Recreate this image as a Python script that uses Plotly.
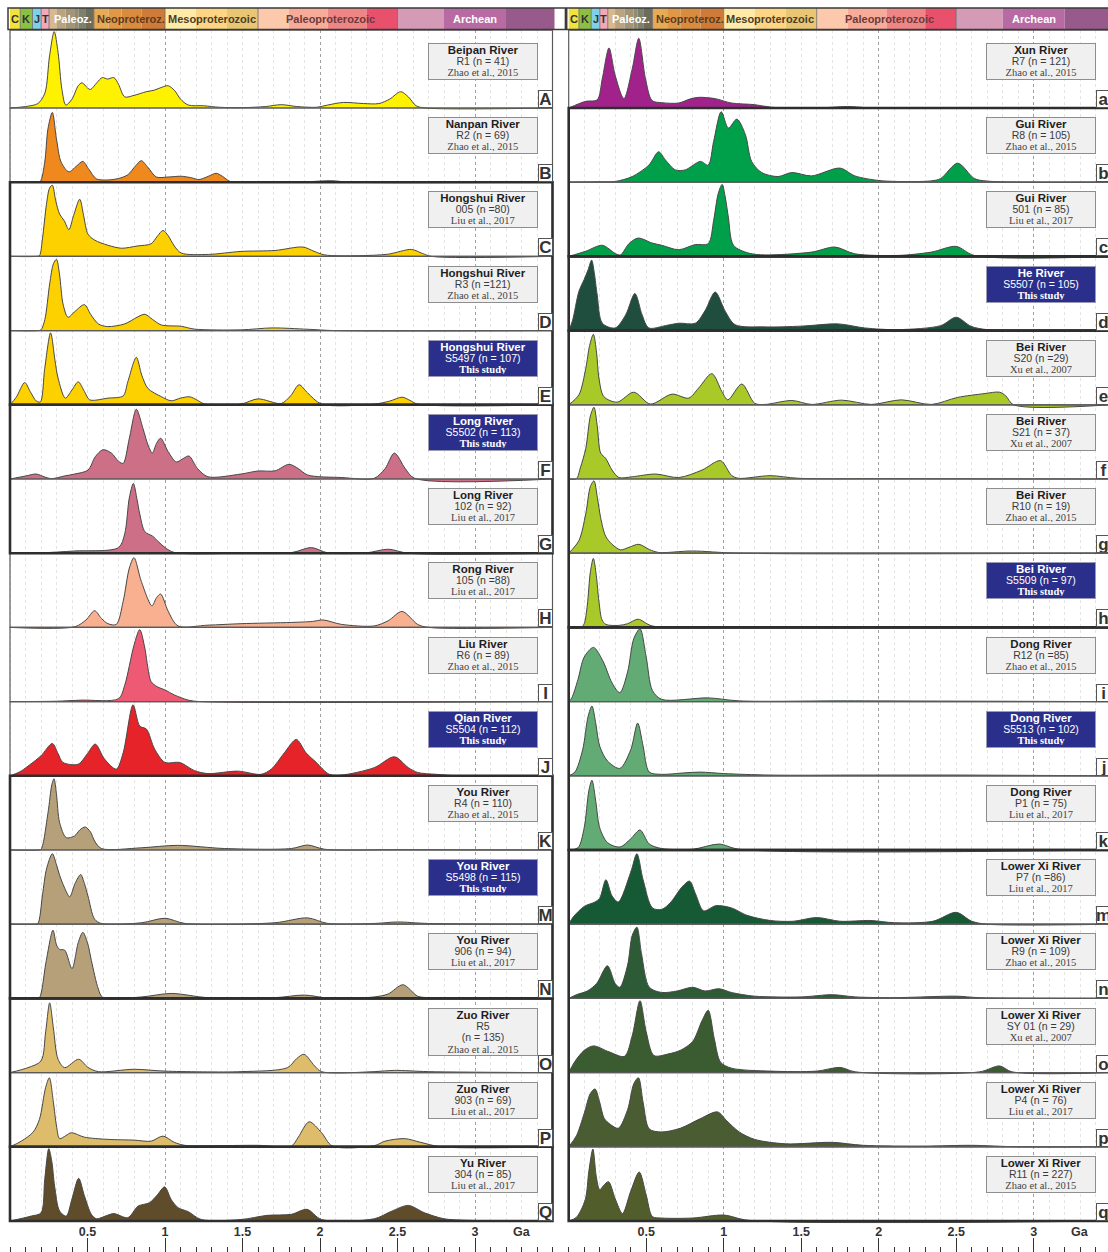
import plotly.graph_objects as go

# ---------------- geological time scale (Ga) ----------------
scale_start = [0.0, 0.066, 0.145, 0.201, 0.252, 0.299, 0.359, 0.419, 0.443, 0.485,
               0.541, 0.635, 0.720, 0.850, 1.0, 1.2, 1.4, 1.6, 1.8, 2.05, 2.3,
               2.5, 2.8, 3.2]
scale_end = scale_start[1:] + [3.6]
scale_colors = ["#f2e23c", "#8cc043", "#7fd0ea", "#f2a8b8",
                "#d8b88c", "#b9a47f", "#a39476", "#908b73", "#7e806e", "#6c6c5c",
                "#e7aa55", "#e09846", "#d98b3e", "#cf7b37",
                "#feeaa9", "#fdd583", "#e9c674",
                "#fcc9ad", "#f7ab98", "#f08585", "#e9506c",
                "#d59bb6", "#b86aa2", "#985a8b"]
era_bounds = [0.066, 0.145, 0.201, 0.252, 0.541, 1.0, 1.6, 2.5]
era_labels = ["C", "K", "J", "T", "Paleoz.", "Neoproteroz.", "Mesoproterozoic",
              "Paleoproterozoic", "Archean"]
era_label_pos = [0.033, 0.105, 0.173, 0.226, 0.405, 0.78, 1.30, 2.07, 3.0]
era_label_colors = ["#333333", "#333333", "#333333", "#333333", "#ffffff",
                    "#5a3d22", "#4d3d28", "#6b3b3b", "#ffffff"]

# ---------------- axis ticks ----------------
tick_values = [0.5, 1, 1.5, 2, 2.5, 3]
tick_labels = ["0.5", "1", "1.5", "2", "2.5", "3"]

# ---------------- KDE outlines: (age in Ga, relative density) ----------------
beipan_r1 = [(0.0, 0.0), (0.1, 0.02), (0.18, 0.06), (0.225, 0.2), (0.255, 0.7), (0.285, 1.03),
             (0.31, 0.75), (0.335, 0.25), (0.36, 0.04), (0.40, 0.12), (0.44, 0.3), (0.465, 0.34),
             (0.50, 0.27), (0.52, 0.25), (0.56, 0.34), (0.595, 0.41), (0.63, 0.39), (0.67, 0.41),
             (0.70, 0.32), (0.74, 0.15), (0.80, 0.17), (0.88, 0.22), (0.93, 0.24), (0.98, 0.28),
             (1.02, 0.30), (1.06, 0.24), (1.10, 0.12), (1.15, 0.04), (1.25, 0.03), (1.35, 0.01),
             (1.5, 0.005), (1.65, 0.02), (1.75, 0.045), (1.85, 0.02), (1.98, 0.01), (2.05, 0.04),
             (2.15, 0.075), (2.28, 0.06), (2.38, 0.06), (2.45, 0.12), (2.52, 0.22), (2.57, 0.15),
             (2.62, 0.03), (2.68, 0.0), (3.5, 0.0)]
nanpan_r2 = [(0.0, 0.0), (0.17, 0.0), (0.195, 0.01), (0.224, 0.27), (0.245, 0.72), (0.273, 0.94),
             (0.30, 0.58), (0.33, 0.27), (0.38, 0.14), (0.43, 0.22), (0.47, 0.28), (0.51, 0.17),
             (0.557, 0.045), (0.63, 0.03), (0.70, 0.05), (0.76, 0.10), (0.81, 0.22), (0.847, 0.29),
             (0.89, 0.2), (0.944, 0.07), (1.02, 0.07), (1.105, 0.08), (1.17, 0.06), (1.22, 0.036),
             (1.28, 0.08), (1.33, 0.12), (1.37, 0.08), (1.42, 0.01), (1.5, 0.005), (1.9, 0.005),
             (2.07, 0.02), (2.2, 0.0), (3.5, 0.0)]
hongshui_005 = [(0.0, 0.0), (0.17, 0.0), (0.19, 0.01), (0.21, 0.25), (0.235, 0.7), (0.255, 0.92),
                (0.273, 0.96), (0.295, 0.75), (0.32, 0.57), (0.35, 0.48), (0.38, 0.36), (0.41, 0.55),
                (0.45, 0.77), (0.475, 0.55), (0.503, 0.3), (0.546, 0.22), (0.632, 0.15), (0.72, 0.11),
                (0.82, 0.14), (0.91, 0.17), (0.95, 0.27), (0.987, 0.35), (1.02, 0.28), (1.06, 0.14),
                (1.105, 0.045), (1.28, 0.027), (1.49, 0.067), (1.71, 0.08), (1.89, 0.126),
                (1.96, 0.07), (2.03, 0.02), (2.25, 0.01), (2.44, 0.03), (2.59, 0.094), (2.66, 0.04),
                (2.72, 0.0), (3.5, 0.0)]
hongshui_r3 = [(0.0, 0.0), (0.18, 0.0), (0.2, 0.01), (0.225, 0.15), (0.256, 0.63), (0.28, 0.9),
               (0.30, 0.96), (0.32, 0.75), (0.342, 0.36), (0.374, 0.18), (0.42, 0.26), (0.48, 0.35),
               (0.52, 0.22), (0.57, 0.09), (0.63, 0.054), (0.74, 0.09), (0.82, 0.18), (0.87, 0.22),
               (0.92, 0.15), (0.976, 0.076), (1.105, 0.058), (1.19, 0.02), (1.49, 0.01),
               (1.69, 0.036), (1.92, 0.018), (2.1, 0.0), (3.5, 0.0)]
hongshui_s5497 = [(0.0, 0.0), (0.04, 0.1), (0.095, 0.30), (0.13, 0.18), (0.17, 0.05), (0.196, 0.04),
                  (0.224, 0.49), (0.262, 0.97), (0.29, 0.6), (0.31, 0.36), (0.357, 0.09), (0.40, 0.2),
                  (0.44, 0.31), (0.48, 0.18), (0.514, 0.067), (0.632, 0.09), (0.73, 0.12),
                  (0.76, 0.31), (0.815, 0.64), (0.85, 0.4), (0.89, 0.22), (0.976, 0.11),
                  (1.04, 0.054), (1.1, 0.09), (1.16, 0.108), (1.21, 0.06), (1.256, 0.01),
                  (1.49, 0.01), (1.6, 0.08), (1.75, 0.018), (1.81, 0.12), (1.865, 0.27),
                  (1.92, 0.16), (2.01, 0.01), (2.35, 0.01), (2.45, 0.05), (2.53, 0.103),
                  (2.58, 0.06), (2.63, 0.01), (3.5, 0.0)]
long_s5502 = [(0.0, 0.0), (0.1, 0.04), (0.17, 0.067), (0.22, 0.03), (0.267, 0.005), (0.35, 0.04),
              (0.417, 0.067), (0.503, 0.12), (0.55, 0.3), (0.6, 0.395), (0.654, 0.35), (0.70, 0.24),
              (0.73, 0.21), (0.77, 0.55), (0.815, 0.94), (0.858, 0.68), (0.89, 0.46), (0.918, 0.35),
              (0.945, 0.48), (0.972, 0.55), (1.02, 0.37), (1.073, 0.23), (1.12, 0.28),
              (1.155, 0.31), (1.21, 0.14), (1.277, 0.03), (1.49, 0.067), (1.6, 0.108),
              (1.71, 0.11), (1.80, 0.198), (1.86, 0.14), (1.92, 0.054), (2.14, 0.02),
              (2.35, 0.01), (2.42, 0.14), (2.48, 0.35), (2.55, 0.14), (2.61, 0.01), (3.5, 0.0)]
long_102 = [(0.0, 0.0), (0.2, 0.005), (0.417, 0.03), (0.70, 0.076), (0.74, 0.26), (0.77, 0.75),
            (0.796, 0.94), (0.82, 0.72), (0.837, 0.53), (0.87, 0.29), (0.92, 0.23), (0.96, 0.15),
            (1.0, 0.076), (1.06, 0.01), (1.5, 0.0), (1.82, 0.01), (1.944, 0.076), (2.05, 0.005),
            (2.3, 0.005), (2.44, 0.054), (2.57, 0.0), (3.5, 0.0)]
rong_105 = [(0.0, 0.0), (0.42, 0.01), (0.49, 0.1), (0.546, 0.225), (0.59, 0.12), (0.632, 0.05),
            (0.686, 0.04), (0.73, 0.35), (0.77, 0.8), (0.80, 0.94), (0.847, 0.62), (0.916, 0.29),
            (0.945, 0.4), (0.972, 0.45), (1.02, 0.22), (1.084, 0.02), (1.277, 0.03), (1.49, 0.05),
            (1.815, 0.067), (1.95, 0.08), (2.02, 0.10), (2.14, 0.04), (2.35, 0.02), (2.44, 0.09),
            (2.53, 0.215), (2.63, 0.04), (2.7, 0.0), (3.5, 0.0)]
liu_r6 = [(0.0, 0.0), (0.3, 0.005), (0.46, 0.02), (0.70, 0.04), (0.74, 0.22), (0.80, 0.76),
          (0.837, 0.97), (0.87, 0.72), (0.89, 0.45), (0.91, 0.27), (0.95, 0.2), (1.0, 0.157),
          (1.06, 0.09), (1.15, 0.02), (1.23, 0.0), (3.5, 0.0)]
qian_s5504 = [(0.0, 0.0), (0.06, 0.05), (0.116, 0.13), (0.2, 0.27), (0.273, 0.436), (0.31, 0.3),
              (0.342, 0.18), (0.44, 0.157), (0.5, 0.3), (0.55, 0.427), (0.61, 0.225),
              (0.686, 0.09), (0.73, 0.31), (0.794, 0.957), (0.837, 0.67), (0.88, 0.63),
              (0.933, 0.36), (1.0, 0.18), (1.095, 0.18), (1.19, 0.07), (1.277, 0.03),
              (1.47, 0.063), (1.62, 0.02), (1.686, 0.09), (1.77, 0.31), (1.847, 0.49),
              (1.91, 0.31), (1.976, 0.18), (2.06, 0.02), (2.14, 0.01), (2.35, 0.11),
              (2.48, 0.256), (2.57, 0.11), (2.63, 0.045), (2.75, 0.02), (2.9, 0.0), (3.5, 0.0)]
you_r4 = [(0.0, 0.0), (0.18, 0.0), (0.2, 0.01), (0.245, 0.5), (0.27, 0.88), (0.284, 0.96),
          (0.30, 0.75), (0.32, 0.37), (0.363, 0.166), (0.417, 0.19), (0.45, 0.27), (0.486, 0.31),
          (0.52, 0.24), (0.546, 0.12), (0.59, 0.02), (0.85, 0.03), (1.08, 0.063), (1.385, 0.02),
          (1.815, 0.02), (1.92, 0.067), (2.03, 0.01), (2.5, 0.005), (3.5, 0.0)]
you_s5498 = [(0.0, 0.0), (0.16, 0.0), (0.18, 0.01), (0.21, 0.4), (0.235, 0.74), (0.273, 0.95),
             (0.30, 0.8), (0.32, 0.66), (0.35, 0.5), (0.385, 0.37), (0.42, 0.55), (0.456, 0.67),
             (0.48, 0.55), (0.503, 0.38), (0.546, 0.067), (0.59, 0.01), (0.85, 0.02), (1.0, 0.08),
             (1.13, 0.01), (1.71, 0.02), (1.92, 0.085), (2.05, 0.01), (2.35, 0.01), (2.5, 0.03),
             (2.7, 0.01), (3.5, 0.0)]
you_906 = [(0.0, 0.0), (0.17, 0.0), (0.19, 0.01), (0.234, 0.51), (0.277, 0.92), (0.30, 0.72),
           (0.32, 0.66), (0.353, 0.65), (0.40, 0.4), (0.44, 0.75), (0.47, 0.89), (0.50, 0.75),
           (0.525, 0.51), (0.57, 0.126), (0.6, 0.01), (0.85, 0.02), (1.04, 0.067), (1.277, 0.01),
           (1.71, 0.01), (1.9, 0.045), (2.07, 0.0), (2.35, 0.02), (2.44, 0.06), (2.535, 0.184),
           (2.63, 0.03), (2.7, 0.01), (3.5, 0.0)]
zuo_r5 = [(0.0, 0.0), (0.116, 0.067), (0.2, 0.157), (0.23, 0.55), (0.256, 0.94), (0.28, 0.6),
          (0.31, 0.18), (0.353, 0.067), (0.443, 0.18), (0.503, 0.07), (0.57, 0.013), (0.80, 0.045),
          (1.0, 0.02), (1.49, 0.013), (1.79, 0.067), (1.85, 0.19), (1.897, 0.247), (1.965, 0.09),
          (2.01, 0.013), (2.35, 0.013), (2.48, 0.03), (2.7, 0.013), (3.5, 0.0)]
zuo_903 = [(0.0, 0.0), (0.073, 0.076), (0.15, 0.2), (0.19, 0.37), (0.23, 0.8), (0.254, 0.93),
           (0.28, 0.6), (0.3, 0.28), (0.32, 0.11), (0.36, 0.15), (0.396, 0.19), (0.48, 0.13),
           (0.632, 0.1), (0.80, 0.09), (0.91, 0.076), (0.987, 0.144), (1.06, 0.06), (1.127, 0.02),
           (1.277, 0.015), (1.6, 0.02), (1.815, 0.01), (1.86, 0.13), (1.93, 0.337), (2.01, 0.19),
           (2.08, 0.01), (2.35, 0.015), (2.42, 0.076), (2.546, 0.11), (2.65, 0.06), (2.78, 0.0),
           (3.5, 0.0)]
yu_304 = [(0.0, 0.0), (0.138, 0.067), (0.2, 0.11), (0.224, 0.56), (0.25, 0.975), (0.27, 0.8),
          (0.288, 0.47), (0.32, 0.135), (0.363, 0.067), (0.40, 0.3), (0.443, 0.575), (0.48, 0.34),
          (0.525, 0.09), (0.557, 0.03), (0.62, 0.07), (0.67, 0.1), (0.76, 0.045), (0.826, 0.2),
          (0.9, 0.247), (0.95, 0.35), (0.998, 0.46), (1.04, 0.29), (1.084, 0.18), (1.15, 0.126),
          (1.234, 0.02), (1.49, 0.02), (1.66, 0.076), (1.815, 0.09), (1.916, 0.157), (2.01, 0.02),
          (2.35, 0.03), (2.46, 0.13), (2.57, 0.21), (2.675, 0.11), (2.8, 0.03), (2.95, 0.01),
          (3.5, 0.0)]

xun_r7 = [(0.0, 0.0), (0.11, 0.09), (0.184, 0.11), (0.217, 0.4), (0.26, 0.81), (0.30, 0.44),
          (0.356, 0.126), (0.41, 0.53), (0.452, 0.94), (0.495, 0.4), (0.538, 0.10), (0.6, 0.072),
          (0.71, 0.067), (0.78, 0.12), (0.838, 0.144), (0.945, 0.126), (1.05, 0.067),
          (1.2, 0.045), (1.31, 0.01), (1.6, 0.0), (1.8, 0.02), (1.97, 0.0), (3.5, 0.0)]
gui_r8 = [(0.0, 0.0), (0.2, 0.005), (0.3, 0.01), (0.41, 0.076), (0.517, 0.23), (0.58, 0.41),
          (0.624, 0.3), (0.688, 0.166), (0.752, 0.166), (0.85, 0.28), (0.9, 0.23), (0.935, 0.55),
          (0.984, 0.95), (1.03, 0.73), (1.085, 0.85), (1.14, 0.64), (1.18, 0.28), (1.245, 0.13),
          (1.35, 0.076), (1.44, 0.13), (1.567, 0.085), (1.75, 0.19), (1.846, 0.085),
          (2.017, 0.02), (2.34, 0.018), (2.4, 0.05), (2.51, 0.256), (2.617, 0.05), (2.7, 0.015),
          (3.5, 0.0)]
gui_501 = [(0.0, 0.0), (0.11, 0.07), (0.217, 0.15), (0.3, 0.04), (0.334, 0.02), (0.388, 0.17),
           (0.448, 0.247), (0.538, 0.18), (0.6, 0.15), (0.71, 0.09), (0.817, 0.16), (0.9, 0.17),
           (0.935, 0.485), (0.965, 0.85), (0.99, 0.97), (1.01, 0.8), (1.03, 0.53), (1.063, 0.15),
           (1.16, 0.045), (1.267, 0.02), (1.567, 0.058), (1.717, 0.126), (1.846, 0.035),
           (2.124, 0.013), (2.34, 0.058), (2.5, 0.135), (2.617, 0.013), (3.5, 0.0)]
he_s5507 = [(0.0, 0.0), (0.024, 0.13), (0.066, 0.53), (0.1, 0.69), (0.125, 0.82), (0.148, 0.95),
            (0.165, 0.78), (0.184, 0.48), (0.217, 0.1), (0.3, 0.036), (0.367, 0.21), (0.427, 0.5),
            (0.474, 0.21), (0.517, 0.036), (0.624, 0.067), (0.71, 0.1), (0.817, 0.1), (0.88, 0.27),
            (0.945, 0.52), (1.01, 0.26), (1.074, 0.08), (1.267, 0.05), (1.5, 0.06), (1.74, 0.09),
            (1.91, 0.036), (2.124, 0.013), (2.4, 0.067), (2.5, 0.18), (2.596, 0.058),
            (2.7, 0.013), (3.5, 0.0)]
bei_s20 = [(0.0, 0.0), (0.066, 0.135), (0.11, 0.49), (0.135, 0.8), (0.159, 0.95), (0.18, 0.7),
           (0.195, 0.36), (0.227, 0.11), (0.313, 0.036), (0.42, 0.17), (0.527, 0.01),
           (0.667, 0.144), (0.774, 0.09), (0.838, 0.225), (0.924, 0.42), (0.988, 0.18),
           (1.027, 0.067), (1.117, 0.28), (1.2, 0.02), (1.267, 0.005), (1.44, 0.058),
           (1.567, 0.005), (1.76, 0.063), (1.953, 0.005), (2.146, 0.067), (2.34, 0.005),
           (2.51, 0.1), (2.68, 0.15), (2.78, 0.17), (2.82, 0.12), (2.87, 0.0), (3.5, 0.0)]
bei_s21 = [(0.0, 0.0), (0.05, 0.005), (0.075, 0.15), (0.11, 0.41), (0.14, 0.85), (0.163, 0.966),
           (0.185, 0.7), (0.206, 0.35), (0.238, 0.28), (0.28, 0.12), (0.324, 0.02), (0.41, 0.03),
           (0.56, 0.067), (0.71, 0.02), (0.86, 0.12), (0.98, 0.247), (1.05, 0.05), (1.095, 0.01),
           (1.3, 0.045), (1.48, 0.01), (2.1, 0.005), (3.5, 0.0)]
bei_r10 = [(0.0, 0.0), (0.066, 0.17), (0.11, 0.53), (0.14, 0.9), (0.163, 0.975), (0.185, 0.75),
           (0.206, 0.48), (0.238, 0.23), (0.28, 0.12), (0.334, 0.045), (0.39, 0.08),
           (0.452, 0.12), (0.52, 0.05), (0.58, 0.01), (0.795, 0.03), (1.095, 0.0), (3.5, 0.0)]
bei_s5509 = [(0.0, 0.0), (0.08, 0.0), (0.1, 0.05), (0.12, 0.3), (0.14, 0.75), (0.159, 0.93),
             (0.178, 0.7), (0.195, 0.35), (0.215, 0.1), (0.24, 0.04), (0.324, 0.027), (0.38, 0.05),
             (0.448, 0.11), (0.538, 0.02), (1.05, 0.01), (3.5, 0.0)]
dong_r12 = [(0.0, 0.0), (0.02, 0.05), (0.06, 0.3), (0.1, 0.6), (0.16, 0.73), (0.22, 0.55),
            (0.28, 0.25), (0.33, 0.12), (0.38, 0.4), (0.42, 0.85), (0.46, 0.98), (0.5, 0.6),
            (0.54, 0.15), (0.6, 0.03), (0.9, 0.05), (1.1, 0.01), (1.8, 0.01), (3.5, 0.0)]
dong_s5513 = [(0.0, 0.0), (0.04, 0.05), (0.09, 0.35), (0.125, 0.8), (0.15, 0.94), (0.175, 0.7),
              (0.2, 0.4), (0.25, 0.2), (0.33, 0.1), (0.4, 0.35), (0.445, 0.71), (0.48, 0.4),
              (0.52, 0.05), (0.6, 0.02), (0.75, 0.04), (0.85, 0.05), (1.0, 0.03), (1.3, 0.01),
              (1.9, 0.01), (2.5, 0.01), (3.5, 0.0)]
dong_p1 = [(0.0, 0.0), (0.06, 0.03), (0.1, 0.3), (0.13, 0.8), (0.15, 0.94), (0.175, 0.65),
           (0.2, 0.3), (0.25, 0.1), (0.33, 0.04), (0.4, 0.15), (0.46, 0.27), (0.52, 0.08),
           (0.6, 0.02), (0.8, 0.01), (0.97, 0.08), (1.1, 0.01), (3.5, 0.0)]
lowerxi_p7 = [(0.0, 0.0), (0.03, 0.1), (0.1, 0.24), (0.17, 0.3), (0.2, 0.35), (0.24, 0.6),
              (0.28, 0.38), (0.32, 0.3), (0.4, 0.7), (0.44, 0.95), (0.48, 0.6), (0.54, 0.22),
              (0.6, 0.2), (0.66, 0.3), (0.73, 0.5), (0.78, 0.58), (0.82, 0.4), (0.87, 0.18),
              (0.95, 0.25), (1.05, 0.22), (1.15, 0.12), (1.3, 0.05), (1.45, 0.04), (1.6, 0.09),
              (1.75, 0.04), (1.95, 0.05), (2.1, 0.02), (2.35, 0.04), (2.5, 0.16), (2.6, 0.04),
              (2.7, 0.0), (3.5, 0.0)]
lowerxi_r9 = [(0.0, 0.0), (0.05, 0.05), (0.12, 0.1), (0.18, 0.2), (0.25, 0.44), (0.3, 0.2),
              (0.33, 0.15), (0.38, 0.45), (0.41, 0.85), (0.44, 0.96), (0.47, 0.6), (0.52, 0.15),
              (0.6, 0.08), (0.7, 0.1), (0.8, 0.15), (0.88, 0.1), (0.97, 0.13), (1.05, 0.08),
              (1.2, 0.03), (1.5, 0.02), (1.7, 0.05), (1.85, 0.02), (2.1, 0.01), (2.5, 0.03),
              (2.65, 0.01), (3.5, 0.0)]
lowerxi_sy01 = [(0.0, 0.0), (0.04, 0.15), (0.1, 0.3), (0.16, 0.36), (0.26, 0.28), (0.36, 0.22),
                (0.41, 0.5), (0.46, 0.97), (0.5, 0.55), (0.55, 0.23), (0.64, 0.25), (0.72, 0.3),
                (0.8, 0.42), (0.86, 0.7), (0.9, 0.84), (0.94, 0.45), (0.98, 0.14), (1.05, 0.06),
                (1.3, 0.02), (1.6, 0.02), (1.75, 0.07), (1.85, 0.01), (2.65, 0.01), (2.78, 0.09),
                (2.86, 0.01), (3.5, 0.0)]
lowerxi_p4 = [(0.0, 0.0), (0.05, 0.15), (0.1, 0.45), (0.14, 0.72), (0.17, 0.78), (0.2, 0.6),
              (0.23, 0.38), (0.27, 0.3), (0.32, 0.25), (0.38, 0.5), (0.42, 0.85), (0.45, 0.93),
              (0.48, 0.6), (0.52, 0.24), (0.6, 0.2), (0.72, 0.25), (0.85, 0.38), (0.96, 0.47),
              (1.02, 0.35), (1.1, 0.2), (1.2, 0.1), (1.4, 0.04), (1.7, 0.06), (1.9, 0.02),
              (2.3, 0.01), (2.6, 0.02), (2.9, 0.0), (3.5, 0.0)]
lowerxi_r11 = [(0.0, 0.0), (0.05, 0.05), (0.107, 0.29), (0.13, 0.67), (0.156, 0.97), (0.178, 0.6),
               (0.2, 0.42), (0.225, 0.48), (0.257, 0.53), (0.3, 0.3), (0.347, 0.1), (0.4, 0.4),
               (0.455, 0.66), (0.5, 0.35), (0.54, 0.06), (0.6, 0.04), (0.8, 0.04), (1.0, 0.08),
               (1.16, 0.01), (3.5, 0.0)]

# ---------------- panel descriptions ----------------
left_letters = ["A", "B", "C", "D", "E", "F", "G", "H", "I", "J", "K", "M", "N", "O", "P", "Q"]
left_rivers = ["Beipan River", "Nanpan River", "Hongshui River", "Hongshui River", "Hongshui River",
               "Long River", "Long River", "Rong River", "Liu River", "Qian River", "You River",
               "You River", "You River", "Zuo River", "Zuo River", "Yu River"]
left_samples = ["R1 (n = 41)", "R2 (n = 69)", "005 (n =80)", "R3 (n =121)", "S5497 (n = 107)",
                "S5502 (n = 113)", "102 (n = 92)", "105 (n =88)", "R6 (n = 89)", "S5504 (n = 112)",
                "R4 (n = 110)", "S5498 (n = 115)", "906 (n = 94)", "R5<br>(n = 135)",
                "903 (n = 69)", "304 (n = 85)"]
left_refs = ["Zhao et al., 2015", "Zhao et al., 2015", "Liu et al., 2017", "Zhao et al., 2015",
             "This study", "This study", "Liu et al., 2017", "Liu et al., 2017",
             "Zhao et al., 2015", "This study", "Zhao et al., 2015", "This study",
             "Liu et al., 2017", "Zhao et al., 2015", "Liu et al., 2017", "Liu et al., 2017"]
left_colors = ["#fff200", "#f0891d", "#fdd000", "#fdd000", "#fdd000", "#cd6f86", "#cd6f86",
               "#f8b090", "#ee5a74", "#e52329", "#b5a07a", "#b5a07a", "#b5a07a", "#ddbc6c",
               "#ddbc6c", "#5e4c2b"]
left_curves = [beipan_r1, nanpan_r2, hongshui_005, hongshui_r3, hongshui_s5497, long_s5502,
               long_102, rong_105, liu_r6, qian_s5504, you_r4, you_s5498, you_906, zuo_r5,
               zuo_903, yu_304]
left_groups = [(2, 4), (5, 6), (10, 12), (13, 14), (15, 15)]

right_letters = ["a", "b", "c", "d", "e", "f", "g", "h", "i", "j", "k", "m", "n", "o", "p", "q"]
right_rivers = ["Xun River", "Gui River", "Gui River", "He River", "Bei River", "Bei River",
                "Bei River", "Bei River", "Dong River", "Dong River", "Dong River",
                "Lower Xi River", "Lower Xi River", "Lower Xi River", "Lower Xi River",
                "Lower Xi River"]
right_samples = ["R7 (n = 121)", "R8 (n = 105)", "501 (n = 85)", "S5507 (n = 105)", "S20 (n =29)",
                 "S21 (n = 37)", "R10 (n = 19)", "S5509 (n = 97)", "R12 (n =85)",
                 "S5513 (n = 102)", "P1 (n = 75)", "P7 (n =86)", "R9 (n = 109)",
                 "SY 01 (n = 29)", "P4 (n = 76)", "R11 (n = 227)"]
right_refs = ["Zhao et al., 2015", "Zhao et al., 2015", "Liu et al., 2017", "This study",
              "Xu et al., 2007", "Xu et al., 2007", "Zhao et al., 2015", "This study",
              "Zhao et al., 2015", "This study", "Liu et al., 2017", "Liu et al., 2017",
              "Zhao et al., 2015", "Xu et al., 2007", "Liu et al., 2017", "Zhao et al., 2015"]
right_colors = ["#a2228c", "#009f4a", "#009f4a", "#1f4e3f", "#a8c928", "#a8c928", "#a8c928",
                "#a8c928", "#62ab74", "#62ab74", "#62ab74", "#155a35", "#2c5b36", "#3b5c30",
                "#495c32", "#525d2c"]
right_curves = [xun_r7, gui_r8, gui_501, he_s5507, bei_s20, bei_s21, bei_r10, bei_s5509,
                dong_r12, dong_s5513, dong_p1, lowerxi_p7, lowerxi_r9, lowerxi_sy01, lowerxi_p4,
                lowerxi_r11]
right_groups = [(1, 2), (3, 3), (4, 7), (8, 10), (11, 15)]

# ---------------- page geometry (px) ----------------
W, H = 1108, 1252
PX_PER_GA = 155.0
PANEL_PX = 74.2
N_PANELS = 16
main_bottom_px, main_top_px = 1223.2, 30.1
bar_top_px, bar_bottom_px = 8.0, 29.5
strip_top_px = 1225.0

columns = [
    dict(origin=10.0, left=8.0, right=554.5, curves=left_curves, colors=left_colors,
         letters=left_letters, rivers=left_rivers, samples=left_samples, refs=left_refs,
         groups=left_groups, axes=("", "3", "5")),
    dict(origin=568.7, left=566.7, right=1108.0, curves=right_curves, colors=right_colors,
         letters=right_letters, rivers=right_rivers, samples=right_samples, refs=right_refs,
         groups=right_groups, axes=("2", "4", "6")),
]

y_low = -(main_bottom_px - 1221.0) / PANEL_PX
y_high = y_low + (main_bottom_px - main_top_px) / PANEL_PX

fig = go.Figure()
layout = dict(
    width=W, height=H, margin=dict(l=0, r=0, t=0, b=0),
    paper_bgcolor="white", plot_bgcolor="white", showlegend=False,
    font=dict(family="Liberation Sans, Arial, sans-serif", color="#222"),
)
shapes, annotations = [], []

for col in columns:
    main, bar, strip = col["axes"]
    x_dom = [col["left"] / W, col["right"] / W]
    x_rng = [(col["left"] - col["origin"]) / PX_PER_GA, (col["right"] - col["origin"]) / PX_PER_GA]

    # --- axes ---
    layout["xaxis" + main] = dict(
        domain=x_dom, range=x_rng, anchor="y" + main, showticklabels=False, ticks="",
        zeroline=False, showline=False, showgrid=True, tickvals=[1, 2, 3],
        gridcolor="#a0a0a0", griddash="dot", gridwidth=1,
        minor=dict(dtick=0.1, tick0=0, showgrid=True, gridcolor="#e4e4e4", gridwidth=1),
    )
    layout["yaxis" + main] = dict(
        domain=[1 - main_bottom_px / H, 1 - main_top_px / H], range=[y_low, y_high],
        anchor="x" + main, visible=False,
    )
    layout["xaxis" + bar] = dict(domain=x_dom, range=x_rng, anchor="y" + bar, visible=False)
    layout["yaxis" + bar] = dict(domain=[1 - bar_bottom_px / H, 1 - bar_top_px / H],
                                 range=[-0.5, 0.5], anchor="x" + bar, visible=False)
    layout["xaxis" + strip] = dict(
        domain=x_dom, range=x_rng, anchor="y" + strip, showgrid=False, zeroline=False,
        showline=False, ticks="inside", ticklen=14, tickwidth=1.2, tickcolor="#333",
        tickvals=tick_values, ticktext=["<b>%s</b>" % t for t in tick_labels],
        ticklabelposition="inside", ticklabelstandoff=-1,
        tickfont=dict(size=12.5, color="#333", family="Liberation Sans, Arial, sans-serif"),
        minor=dict(dtick=0.1, tick0=0, ticks="inside", ticklen=5, tickwidth=1.1,
                   tickcolor="#333", showgrid=False),
    )
    layout["yaxis" + strip] = dict(domain=[0, (H - strip_top_px) / H], range=[0, 1],
                                   anchor="x" + strip, visible=False)

    xref, yref = "x" + main, "y" + main

    # --- time scale bar ---
    fig.add_trace(go.Bar(
        orientation="h", y=[0] * len(scale_start),
        x=[e - s for s, e in zip(scale_start, scale_end)], base=scale_start, width=1,
        marker=dict(color=scale_colors, line=dict(width=0)),
        xaxis="x" + bar, yaxis="y" + bar, hoverinfo="skip",
    ))
    for b in era_bounds:
        shapes.append(dict(type="line", xref="x" + bar, yref="y" + bar, x0=b, x1=b,
                           y0=-0.5, y1=0.5, line=dict(color="#6a6a6a", width=0.8)))
    shapes.append(dict(type="rect", xref="x" + bar + " domain", yref="y" + bar + " domain",
                       x0=0, x1=1.02, y0=0, y1=1, line=dict(color="#3a3a3a", width=1.5)))
    for lab, pos, c in zip(era_labels, era_label_pos, era_label_colors):
        annotations.append(dict(xref="x" + bar, yref="y" + bar, x=pos, y=0, text="<b>%s</b>" % lab,
                                showarrow=False, font=dict(size=11, color=c)))

    # --- density curves ---
    for i, (pts, colr) in enumerate(zip(col["curves"], col["colors"])):
        base = N_PANELS - 1 - i
        fig.add_trace(go.Scatter(
            x=[p[0] for p in pts], y=[base + p[1] for p in pts], mode="lines",
            line=dict(color="#474747", width=1, shape="spline", smoothing=0.85),
            fill="toself", fillcolor=colr, xaxis=xref, yaxis=yref, hoverinfo="skip",
        ))

    # --- panel frames ---
    for i in range(N_PANELS):
        base = N_PANELS - 1 - i
        top = y_high if i == 0 else base + 1
        shapes.append(dict(type="rect", xref=xref, yref=yref, x0=0, x1=3.5, y0=base, y1=top,
                           line=dict(color="#5a5a5a", width=1.2), layer="above"))
    for g0, g1 in col["groups"]:
        shapes.append(dict(type="rect", xref=xref, yref=yref, x0=0, x1=3.5,
                           y0=N_PANELS - 1 - g1, y1=N_PANELS - g0,
                           line=dict(color="#2e2e2e", width=2.6), layer="above"))

    # --- sample boxes and panel letters ---
    letter_x = min(3.5, x_rng[1] - 0.002)
    letter_shift = (3.5 - letter_x) * PX_PER_GA
    for i in range(N_PANELS):
        base = N_PANELS - 1 - i
        river, sample, ref = col["rivers"][i], col["samples"][i], col["refs"][i]
        own = ref == "This study"
        c1 = "#ffffff" if own else "#1e1e1e"
        c2 = "#ffffff" if own else "#3a3a3a"
        c3 = "#ffffff" if own else "#444444"
        ref_txt = "<b>%s</b>" % ref if own else ref
        n_lines = 3 + sample.count("<br>")
        sample_html = sample.replace("<br>", "</span><br><span style='font-size:10.5px;color:%s'>" % c2)
        text = ("<span style='font-size:11.5px;color:%s'><b>%s</b></span><br>"
                "<span style='font-size:10.5px;color:%s'>%s</span><br>"
                "<span style='font-family:\"Liberation Serif\", serif;font-size:10.5px;color:%s'>%s</span>"
                % (c1, river, c2, sample_html, c3, ref_txt))
        annotations.append(dict(
            xref=xref, yref=yref, x=3.05, y=base + 0.875, xanchor="center", yanchor="top",
            text=text, showarrow=False, align="center", width=105, height=11.2 * n_lines - 2,
            font=dict(size=8.6), bgcolor="#2b2f8c" if own else "#f0f0f0",
            bordercolor="#9b9bb5" if own else "#8e8e8e", borderwidth=1, borderpad=1.5,
        ))
        annotations.append(dict(
            xref=xref, yref=yref, x=letter_x, y=base, xanchor="right", yanchor="bottom",
            xshift=letter_shift, text="<b>%s</b>" % col["letters"][i], showarrow=False,
            font=dict(size=17, color="#333"), bgcolor="white", bordercolor="#555",
            borderwidth=1, borderpad=0, width=13, height=16,
        ))

    # axis unit
    annotations.append(dict(xref="x" + strip, yref="paper", x=3.3, y=1 - 1232 / H,
                            text="<b>Ga</b>", showarrow=False, xanchor="center",
                            yanchor="middle", font=dict(size=12.5, color="#333")))

layout["shapes"] = shapes
layout["annotations"] = annotations
layout["barmode"] = "overlay"
fig.update_layout(**layout)
fig.write_html("out.html")
